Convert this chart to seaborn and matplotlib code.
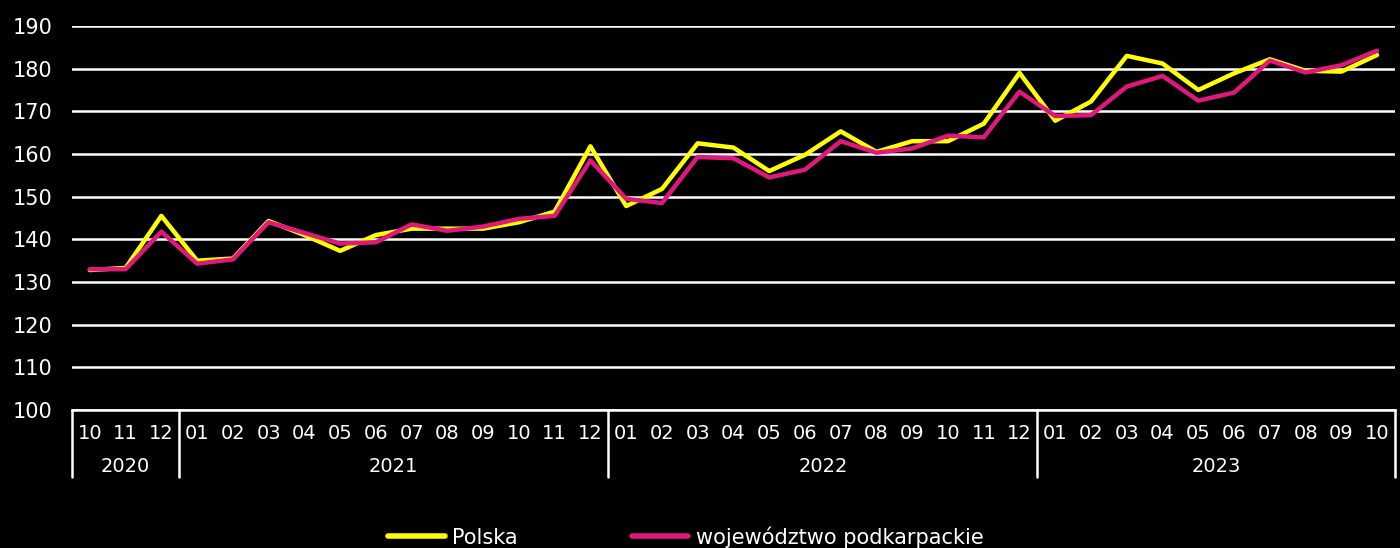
import pandas as pd
import numpy as np
import seaborn as sns
import matplotlib.pyplot as plt
import matplotlib.transforms as mtransforms

months = ["10", "11", "12",
          "01", "02", "03", "04", "05", "06", "07", "08", "09", "10", "11", "12",
          "01", "02", "03", "04", "05", "06", "07", "08", "09", "10", "11", "12",
          "01", "02", "03", "04", "05", "06", "07", "08", "09", "10"]
years = ["2020", "2021", "2022", "2023"]
year_len = [3, 12, 12, 10]

polska = [132.8, 133.3, 145.5,
          135.0, 135.5, 144.3, 141.0, 137.3, 141.0, 142.5, 142.5, 142.5, 144.0, 146.5, 161.8,
          147.8, 151.8, 162.5, 161.5, 156.0, 159.8, 165.3, 160.5, 163.0, 163.0, 167.1, 179.0,
          167.8, 172.3, 183.0, 181.2, 175.0, 178.9, 182.2, 179.5, 179.3, 183.2]
podkarpackie = [133.0, 133.0, 141.8,
                134.3, 135.3, 144.0, 141.5, 139.0, 139.3, 143.5, 142.0, 143.0, 144.8, 145.5, 158.5,
                149.5, 148.5, 159.3, 159.0, 154.5, 156.3, 163.0, 160.3, 161.3, 164.3, 163.9, 174.6,
                168.9, 169.1, 175.8, 178.3, 172.5, 174.4, 181.9, 179.1, 180.8, 184.2]

series = ["Polska", "województwo podkarpackie"]
colors = ["#ffff00", "#e0187c"]

idx = np.arange(len(months))
df = pd.concat([
    pd.DataFrame({"x": idx, "value": polska, "seria": series[0]}),
    pd.DataFrame({"x": idx, "value": podkarpackie, "seria": series[1]}),
])

sns.set_style("dark", {"axes.facecolor": "black", "figure.facecolor": "black"})
plt.rcParams["font.family"] = ["Liberation Sans Narrow", "DejaVu Sans"]

fig = plt.figure(figsize=(14, 5.48), dpi=100, facecolor="black")
ax = fig.add_axes([0.0514, 0.2518, 0.9450, 0.7008])
ax.set_facecolor("black")

sns.lineplot(data=df, x="x", y="value", hue="seria", palette=colors,
             linewidth=3.2, ax=ax, legend=False, zorder=3)

ax.set_ylim(100, 190)
ax.set_xlim(-0.5, len(months) - 0.5)
ax.set_yticks(range(100, 191, 10))
ax.grid(axis="y", color="white", linewidth=1.8)
ax.grid(axis="x", visible=False)
for s in ["top", "right", "left"]:
    ax.spines[s].set_visible(False)
ax.spines["bottom"].set_color("white")
ax.spines["bottom"].set_linewidth(1.8)

ax.set_xticks(idx)
ax.set_xticklabels(months)
ax.tick_params(axis="x", length=0, pad=10, labelsize=14, colors="white")
ax.tick_params(axis="y", length=0, pad=0, labelsize=15, colors="white")
for lab in ax.get_yticklabels():
    lab.set_horizontalalignment("left")
    lab.set_x(-0.045)
ax.set_xlabel("")
ax.set_ylabel("")

# year groups under month labels
trans = mtransforms.blended_transform_factory(ax.transData, ax.transAxes)
start = -0.5
ax.plot([start, start], [0, -0.175], transform=trans, color="white", lw=1.8, clip_on=False)
for yr, n in zip(years, year_len):
    end = start + n
    ax.plot([end, end], [0, -0.175], transform=trans, color="white", lw=1.8, clip_on=False)
    ax.text((start + end) / 2, -0.148, yr, transform=trans, ha="center", va="center",
            color="white", fontsize=14)
    start = end

handles = [plt.Line2D([], [], color=c, lw=4) for c in colors]
leg = fig.legend(handles, series, loc="center", bbox_to_anchor=(0.49, 0.02), ncol=2,
                 frameon=False, fontsize=15, labelcolor="white", columnspacing=5.5,
                 handlelength=2.7, handletextpad=0.35)

fig.savefig("out.png", dpi=100, facecolor="black")
